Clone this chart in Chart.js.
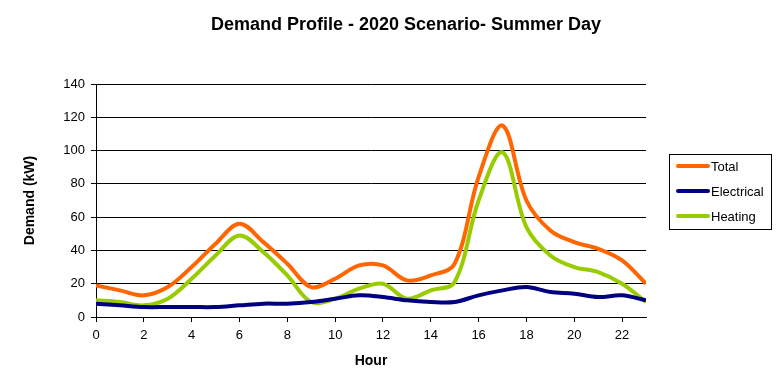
<!DOCTYPE html>
<html>
<head>
<meta charset="utf-8">
<script src="https://cdn.jsdelivr.net/npm/chart.js@4/dist/chart.umd.min.js"></script>
<style>
html,body{margin:0;padding:0;background:#fff;}
#wrap{width:781px;height:381px;}
</style>
</head>
<body>
<div id="wrap"><canvas id="c" width="781" height="381"></canvas></div>
<script>
const hours = [0,1,2,3,4,5,6,7,8,9,10,11,12,13,14,15,16,17,18,19,20,21,22,23];
const total = [19,16,13,18,30,44,56,45,32,18,23,31,31,22,25,32,84,115,70,52,45,41,34,20];
const electrical = [8,7,6,6,6,6,7,8,8,9,11,13,12,10,9,9,13,16,18,15,14,12,13,10];
const heating = [10,9,7,11,23,37,49,39,25,9,11,17,20,11,16,21,70,99,54,37,30,27,20,9];
const seriesNames = ['Total','Electrical','Heating'];
const chartTitle = 'Demand Profile - 2020 Scenario- Summer Day';
const xTitle = 'Hour';
const yTitle = 'Demand (kW)';

const FONT = "'Liberation Sans', Arial, sans-serif";

const legendBox = {
  id: 'legendBox',
  afterDraw(chart) {
    const ctx = chart.ctx;
    const bx = 669.5, by = 154.5, bw = 102, bh = 75;
    ctx.save();
    ctx.strokeStyle = '#000';
    ctx.lineWidth = 1;
    ctx.strokeRect(bx, by, bw, bh);
    ctx.font = '13px ' + FONT;
    ctx.textBaseline = 'middle';
    ctx.textAlign = 'left';
    chart.data.datasets.forEach((ds, i) => {
      const y = 166 + i * 25;
      ctx.strokeStyle = ds.borderColor;
      ctx.lineWidth = 4;
      ctx.lineCap = 'round';
      ctx.beginPath();
      ctx.moveTo(678, y);
      ctx.lineTo(708, y);
      ctx.stroke();
      ctx.fillStyle = '#000';
      ctx.fillText(ds.label, 711, y + 1);
    });
    ctx.restore();
  }
};

const shiftTitle = {
  id: 'shiftTitle',
  afterLayout(chart) {
    const t = chart.titleBlock;
    if (t) { t.left = 31; t.right = 781; }
  }
};

new Chart(document.getElementById('c'), {
  type: 'line',
  data: {
    labels: hours,
    datasets: [
      {label: seriesNames[0], data: total, borderColor: '#FF6600', backgroundColor: '#FF6600'},
      {label: seriesNames[1], data: electrical, borderColor: '#000080', backgroundColor: '#000080'},
      {label: seriesNames[2], data: heating, borderColor: '#99CC00', backgroundColor: '#99CC00'}
    ]
  },
  options: {
    responsive: false,
    animation: false,
    devicePixelRatio: 1,
    layout: {padding: {left: 0, right: 135, top: 0, bottom: 0}},
    elements: {
      line: {borderWidth: 4, tension: 0.35, cubicInterpolationMode: 'default', capBezierPoints: false},
      point: {radius: 0, hoverRadius: 0}
    },
    plugins: {
      legend: {display: false},
      tooltip: {enabled: false},
      title: {
        display: true,
        text: chartTitle,
        color: '#000',
        font: {family: FONT, size: 18, weight: 'bold', lineHeight: 1.2},
        padding: {top: 14, bottom: 48.4}
      }
    },
    scales: {
      x: {
        type: 'linear',
        min: 0,
        max: 23,
        afterBuildTicks(scale) {
          scale.ticks = scale.ticks.filter(t => t.value % 2 === 0);
        },
        afterFit(scale) { scale.height = 64; },
        ticks: {stepSize: 2, color: '#000', font: {family: FONT, size: 13}, padding: 6, maxRotation: 0, autoSkip: false},
        grid: {drawOnChartArea: false, drawTicks: true, tickLength: 5, color: '#000', lineWidth: 1},
        border: {display: true, color: '#000', width: 1},
        title: {display: true, text: xTitle, color: '#000', font: {family: FONT, size: 14, weight: 'bold', lineHeight: 1.2}, padding: 11}
      },
      y: {
        min: 0,
        max: 140,
        afterFit(scale) { scale.width = 96; },
        ticks: {stepSize: 20, color: '#000', font: {family: FONT, size: 13}, padding: 6},
        grid: {drawOnChartArea: true, drawTicks: true, tickLength: 5, color: '#000', lineWidth: 1},
        border: {display: true, color: '#000', width: 1},
        title: {display: true, text: yTitle, color: '#000', font: {family: FONT, size: 14, weight: 'bold', lineHeight: 1.2}, padding: 22}
      }
    }
  },
  plugins: [legendBox, shiftTitle]
});
</script>
</body>
</html>
